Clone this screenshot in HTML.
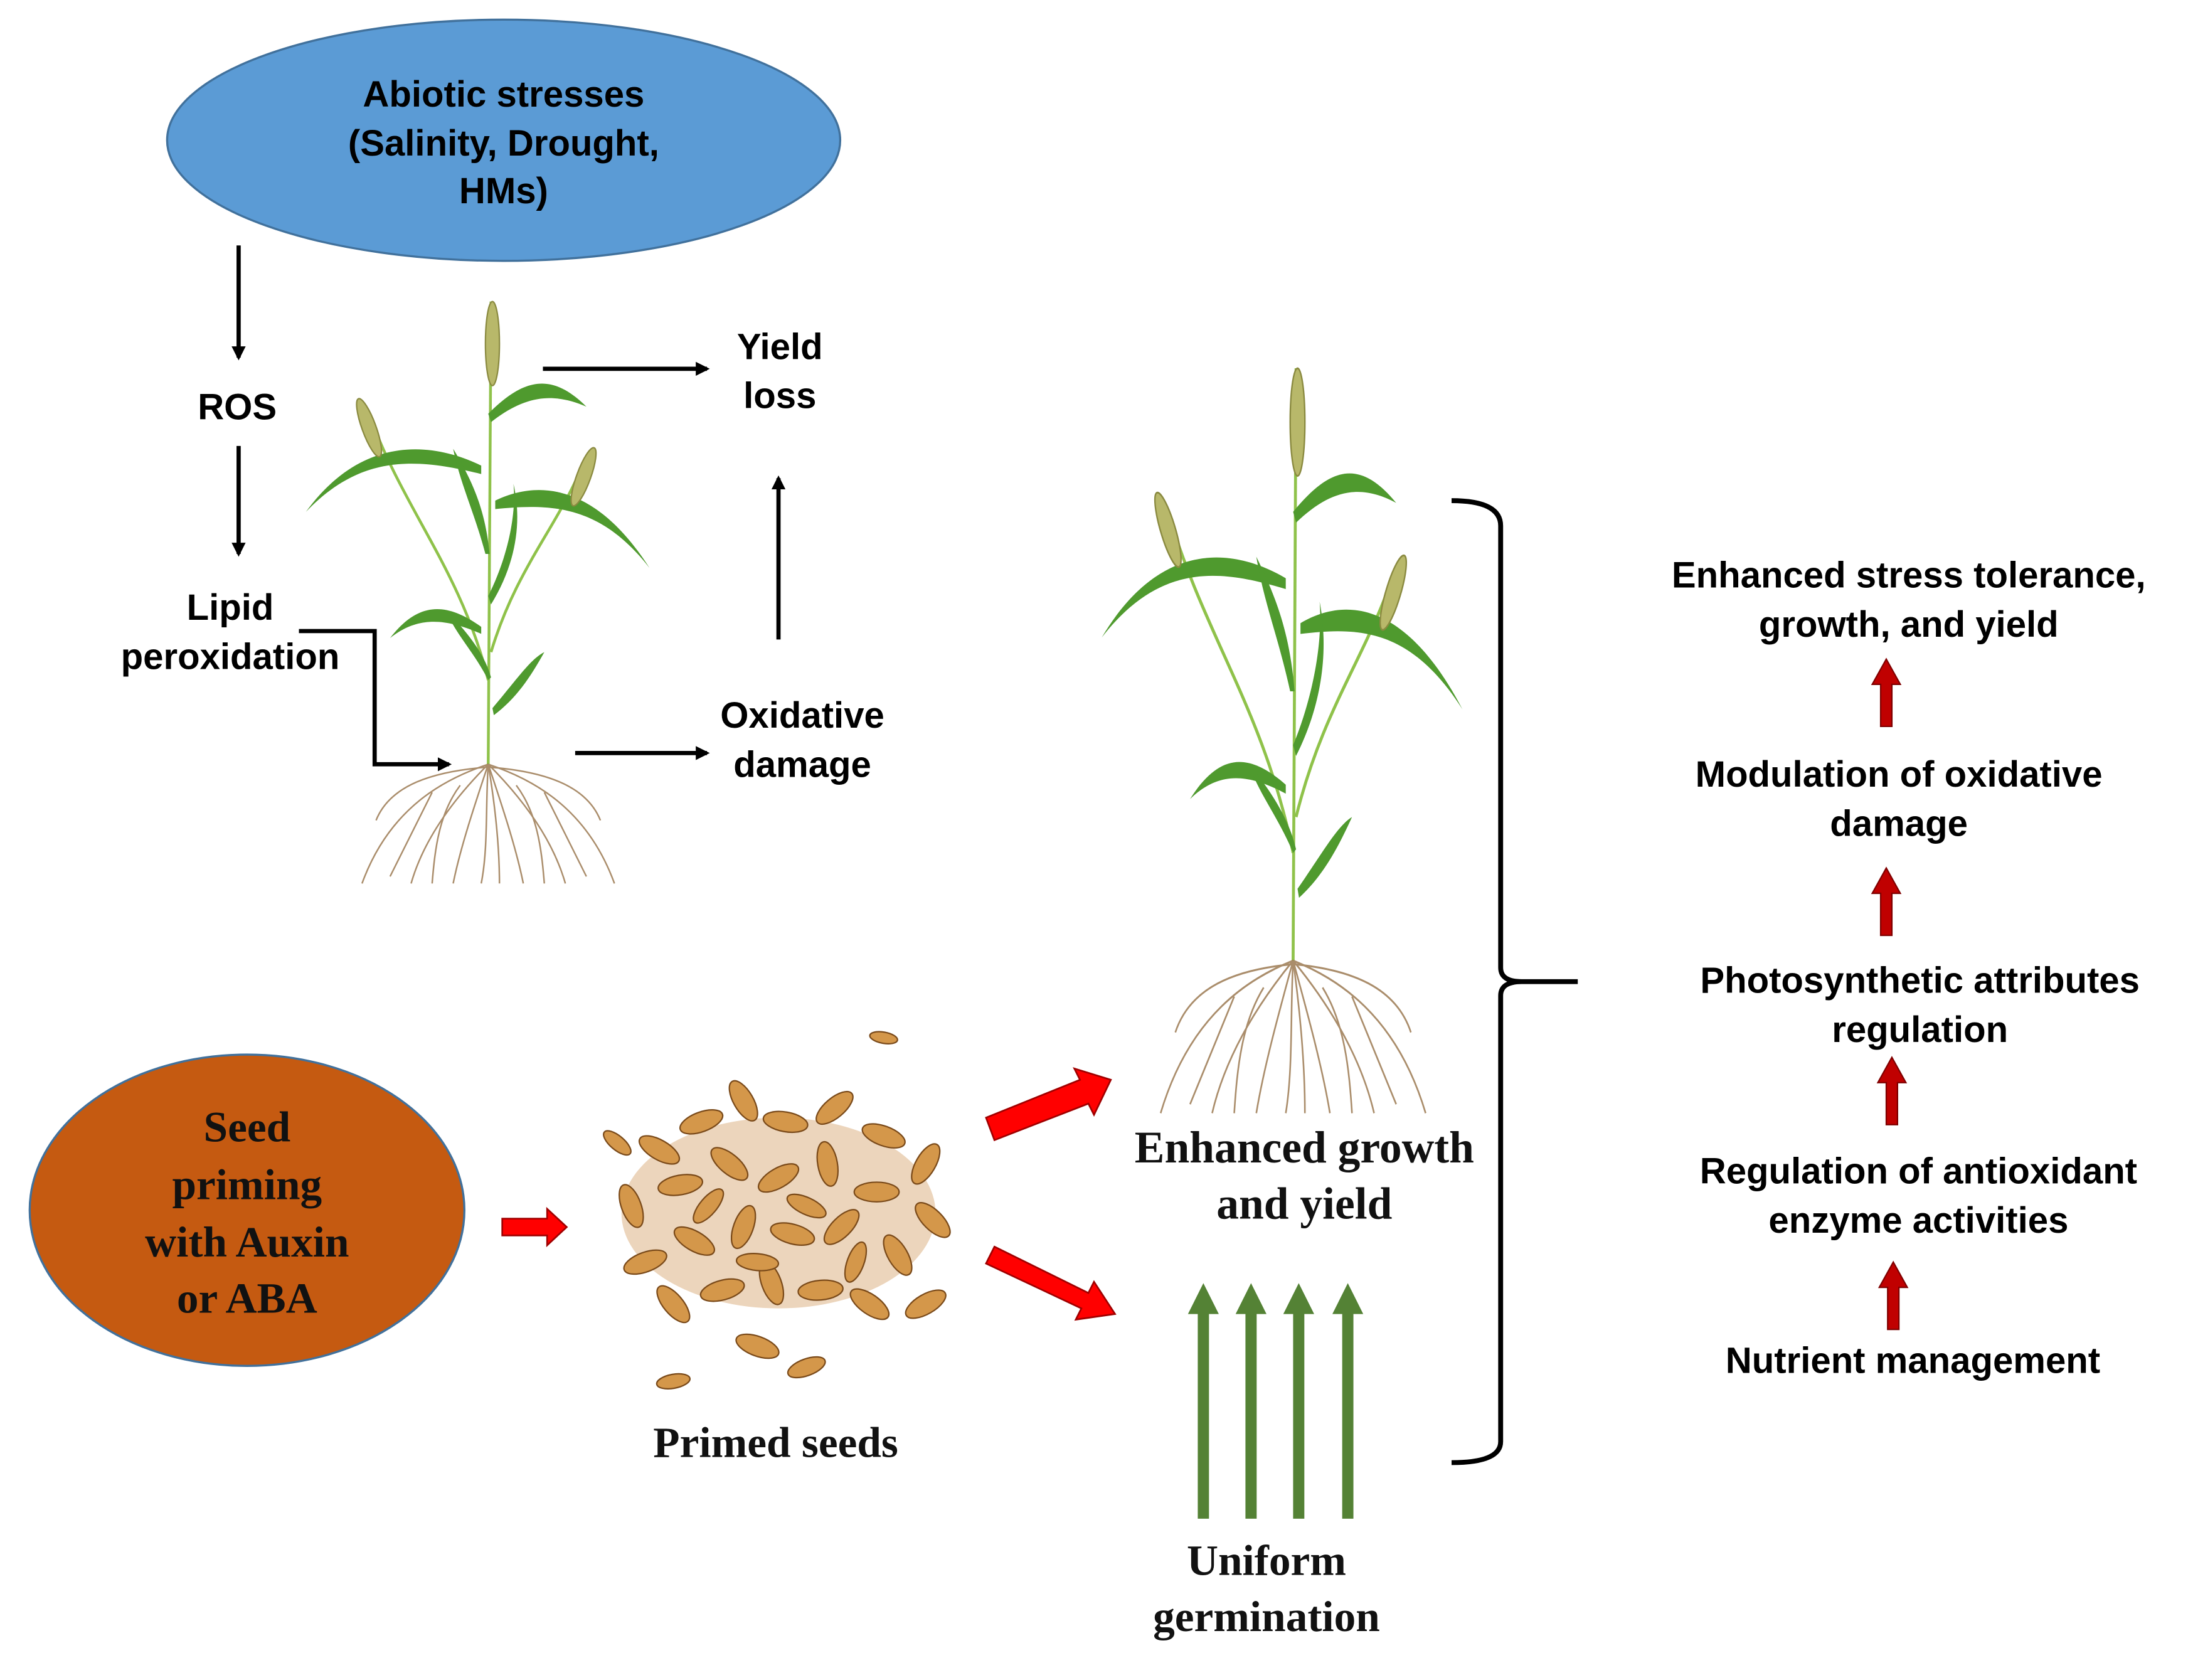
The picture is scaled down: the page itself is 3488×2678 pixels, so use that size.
<!DOCTYPE html>
<html><head><meta charset="utf-8">
<style>
html,body{margin:0;padding:0;background:#fff;}
svg{display:block;}
.s{font-family:"Liberation Sans",sans-serif;font-weight:bold;font-size:26px;fill:#000;text-anchor:middle;}
.r{font-family:"Liberation Serif",serif;font-weight:bold;font-size:31px;fill:#111;text-anchor:middle;}
</style></head>
<body>
<svg width="3488" height="2678" viewBox="0 0 1560 1198" xmlns="http://www.w3.org/2000/svg">
<defs>
<marker id="ah" markerWidth="10" markerHeight="10" refX="8" refY="5" orient="auto" markerUnits="userSpaceOnUse"><path d="M0,0 L10,5 L0,10 z" fill="#000"/></marker>
<g id="plant">
  <g stroke="#8fc24a" stroke-width="2" fill="none">
    <path d="M0,0 L2,-330"/>
    <path d="M0,-60 C-20,-140 -60,-180 -85,-250"/>
    <path d="M2,-80 C20,-140 50,-170 68,-215"/>
  </g>
  <g fill="#4f9a2e">
    <path d="M0,-250 C25,-275 45,-280 70,-255 C45,-266 25,-262 2,-244z"/>
    <path d="M-5,-213 C-40,-230 -90,-235 -130,-180 C-90,-222 -50,-218 -5,-207z"/>
    <path d="M5,-188 C40,-205 80,-195 115,-140 C80,-185 45,-186 5,-182z"/>
    <path d="M-2,-150 C-10,-180 -20,-200 -25,-225 C-10,-200 -2,-180 1,-150z"/>
    <path d="M0,-120 C15,-150 20,-180 18,-200 C25,-170 18,-140 2,-114z"/>
    <path d="M-5,-98 C-30,-116 -50,-116 -70,-90 C-50,-106 -30,-104 -5,-93z"/>
    <path d="M0,-60 C-10,-80 -25,-95 -30,-110 C-16,-95 -3,-80 2,-62z"/>
    <path d="M3,-40 C20,-60 30,-75 40,-80 C30,-62 20,-47 4,-35z"/>
  </g>
  <g fill="#b8b86a" stroke="#8a8a40" stroke-width="1">
    <ellipse cx="3" cy="-300" rx="5" ry="30"/>
    <ellipse cx="-85" cy="-240" rx="5" ry="22" transform="rotate(-20 -85 -240)"/>
    <ellipse cx="68" cy="-205" rx="5" ry="22" transform="rotate(20 68 -205)"/>
  </g>
  <g stroke="#9c7a52" stroke-width="1.1" fill="none" opacity="0.85">
    <path d="M0,0 C-30,10 -70,30 -90,85"/><path d="M0,0 C30,10 70,30 90,85"/>
    <path d="M0,0 C-20,20 -45,50 -55,85"/><path d="M0,0 C20,20 45,50 55,85"/>
    <path d="M0,0 C-10,30 -20,60 -25,85"/><path d="M0,0 C10,30 20,60 25,85"/>
    <path d="M0,0 C-2,30 0,60 -5,85"/><path d="M0,0 C5,30 8,60 8,85"/>
    <path d="M0,2 C-40,5 -70,15 -80,40"/><path d="M0,2 C40,5 70,15 80,40"/>
    <path d="M-40,20 C-50,40 -60,60 -70,80"/><path d="M40,20 C50,40 60,60 70,80"/>
    <path d="M-20,15 C-35,35 -38,60 -40,85"/><path d="M20,15 C35,35 38,60 40,85"/>
  </g>
</g>
</defs>

<ellipse cx="359" cy="100" rx="240" ry="86" fill="#5b9bd5" stroke="#41719c" stroke-width="1.5"/>
<text class="s" x="359" y="76">Abiotic stresses</text>
<text class="s" x="359" y="111">(Salinity, Drought,</text>
<text class="s" x="359" y="145">HMs)</text>

<g stroke="#000" stroke-width="3" fill="none" marker-end="url(#ah)">
<line x1="170" y1="175" x2="170" y2="255"/>
<line x1="170" y1="318" x2="170" y2="395"/>
<polyline points="213,450 267,450 267,545 320,545"/>
<line x1="387" y1="263" x2="504" y2="263"/>
<line x1="555" y1="456" x2="555" y2="341"/>
<line x1="410" y1="537" x2="504" y2="537"/>
</g>
<text class="s" x="169" y="299">ROS</text>
<text class="s" x="164" y="442">Lipid</text>
<text class="s" x="164" y="477">peroxidation</text>
<text class="s" x="556" y="256">Yield</text>
<text class="s" x="556" y="291">loss</text>
<text class="s" x="572" y="519">Oxidative</text>
<text class="s" x="572" y="554">damage</text>

<use href="#plant" x="348" y="545"/>
<use href="#plant" transform="translate(922,685) scale(1.05,1.28)"/>

<path d="M1035,357 Q1070,357 1070,375 L1070,690 Q1070,700 1085,700 L1125,700 M1085,700 Q1070,700 1070,710 L1070,1028 Q1070,1043 1035,1043" stroke="#000" stroke-width="3.5" fill="none"/>

<text class="s" x="1361" y="419">Enhanced stress tolerance,</text>
<text class="s" x="1361" y="454">growth, and yield</text>
<text class="s" x="1354" y="561">Modulation of oxidative</text>
<text class="s" x="1354" y="596">damage</text>
<text class="s" x="1369" y="708">Photosynthetic attributes</text>
<text class="s" x="1369" y="743">regulation</text>
<text class="s" x="1368" y="844">Regulation of antioxidant</text>
<text class="s" x="1368" y="879">enzyme activities</text>
<text class="s" x="1364" y="979">Nutrient management</text>
<g fill="#c00000" stroke="#7f0000" stroke-width="1">
<path d="M1341,518 L1341,488 L1335,488 L1345,470 L1355,488 L1349,488 L1349,518z"/>
<path d="M1341,667 L1341,637 L1335,637 L1345,619 L1355,637 L1349,637 L1349,667z"/>
<path d="M1345,802 L1345,772 L1339,772 L1349,754 L1359,772 L1353,772 L1353,802z"/>
<path d="M1346,948 L1346,918 L1340,918 L1350,900 L1360,918 L1354,918 L1354,948z"/>
</g>

<ellipse cx="176" cy="863" rx="155" ry="111" fill="#c55a11" stroke="#41719c" stroke-width="1.5"/>
<text class="r" x="176" y="814">Seed</text>
<text class="r" x="176" y="855">priming</text>
<text class="r" x="176" y="896">with Auxin</text>
<text class="r" x="176" y="936">or ABA</text>

<g fill="#ff0000" stroke="#a00000" stroke-width="1.2">
<path d="M358,869 L390,869 L390,862 L404,875 L390,888 L390,881 L358,881z"/>
<path d="M703,797 L770,770 L766,762 L792,770 L780,795 L776,787 L709,813z"/>
<path d="M709,889 L776,922 L780,914 L795,937 L767,941 L771,933 L703,901z"/>
</g>

<g>
<ellipse cx="555" cy="865" rx="112" ry="68" fill="#c8863e" opacity="0.35"/>
<g fill="#d4974a" stroke="#7a4a1a" stroke-width="1">
<ellipse cx="470" cy="820" rx="16" ry="7" transform="rotate(30 470 820)"/>
<ellipse cx="500" cy="800" rx="16" ry="7" transform="rotate(-20 500 800)"/>
<ellipse cx="530" cy="785" rx="16" ry="7" transform="rotate(60 530 785)"/>
<ellipse cx="560" cy="800" rx="16" ry="7" transform="rotate(10 560 800)"/>
<ellipse cx="595" cy="790" rx="16" ry="7" transform="rotate(-40 595 790)"/>
<ellipse cx="630" cy="810" rx="16" ry="7" transform="rotate(20 630 810)"/>
<ellipse cx="660" cy="830" rx="16" ry="7" transform="rotate(-60 660 830)"/>
<ellipse cx="450" cy="860" rx="16" ry="7" transform="rotate(70 450 860)"/>
<ellipse cx="485" cy="845" rx="16" ry="7" transform="rotate(-10 485 845)"/>
<ellipse cx="520" cy="830" rx="16" ry="7" transform="rotate(40 520 830)"/>
<ellipse cx="555" cy="840" rx="16" ry="7" transform="rotate(-30 555 840)"/>
<ellipse cx="590" cy="830" rx="16" ry="7" transform="rotate(80 590 830)"/>
<ellipse cx="625" cy="850" rx="16" ry="7" transform="rotate(0 625 850)"/>
<ellipse cx="665" cy="870" rx="16" ry="7" transform="rotate(45 665 870)"/>
<ellipse cx="460" cy="900" rx="16" ry="7" transform="rotate(-20 460 900)"/>
<ellipse cx="495" cy="885" rx="16" ry="7" transform="rotate(30 495 885)"/>
<ellipse cx="530" cy="875" rx="16" ry="7" transform="rotate(-70 530 875)"/>
<ellipse cx="565" cy="880" rx="16" ry="7" transform="rotate(15 565 880)"/>
<ellipse cx="600" cy="875" rx="16" ry="7" transform="rotate(-45 600 875)"/>
<ellipse cx="640" cy="895" rx="16" ry="7" transform="rotate(60 640 895)"/>
<ellipse cx="480" cy="930" rx="16" ry="7" transform="rotate(50 480 930)"/>
<ellipse cx="515" cy="920" rx="16" ry="7" transform="rotate(-15 515 920)"/>
<ellipse cx="550" cy="915" rx="16" ry="7" transform="rotate(70 550 915)"/>
<ellipse cx="585" cy="920" rx="16" ry="7" transform="rotate(-5 585 920)"/>
<ellipse cx="620" cy="930" rx="16" ry="7" transform="rotate(35 620 930)"/>
<ellipse cx="660" cy="930" rx="16" ry="7" transform="rotate(-30 660 930)"/>
<ellipse cx="540" cy="960" rx="16" ry="7" transform="rotate(20 540 960)"/>
<ellipse cx="575" cy="975" rx="14" ry="6" transform="rotate(-20 575 975)"/>
<ellipse cx="480" cy="985" rx="12" ry="5" transform="rotate(-10 480 985)"/>
<ellipse cx="440" cy="815" rx="12" ry="5" transform="rotate(40 440 815)"/>
<ellipse cx="630" cy="740" rx="10" ry="4" transform="rotate(10 630 740)"/>
<ellipse cx="505" cy="860" rx="15" ry="6" transform="rotate(-50 505 860)"/>
<ellipse cx="575" cy="860" rx="15" ry="6" transform="rotate(25 575 860)"/>
<ellipse cx="610" cy="900" rx="15" ry="6" transform="rotate(-70 610 900)"/>
<ellipse cx="540" cy="900" rx="15" ry="6" transform="rotate(5 540 900)"/>
</g>
</g>
<text class="r" x="553" y="1039">Primed seeds</text>

<text class="r" x="930" y="829" style="font-size:32px">Enhanced growth</text>
<text class="r" x="930" y="869" style="font-size:32px">and yield</text>

<g fill="#548235">
<path d="M854,1083 L854,937 L847,937 L858,915 L869,937 L862,937 L862,1083z"/>
<path d="M888,1083 L888,937 L881,937 L892,915 L903,937 L896,937 L896,1083z"/>
<path d="M922,1083 L922,937 L915,937 L926,915 L937,937 L930,937 L930,1083z"/>
<path d="M957,1083 L957,937 L950,937 L961,915 L972,937 L965,937 L965,1083z"/>
</g>
<text class="r" x="903" y="1123">Uniform</text>
<text class="r" x="903" y="1163">germination</text>
</svg>
</body></html>
